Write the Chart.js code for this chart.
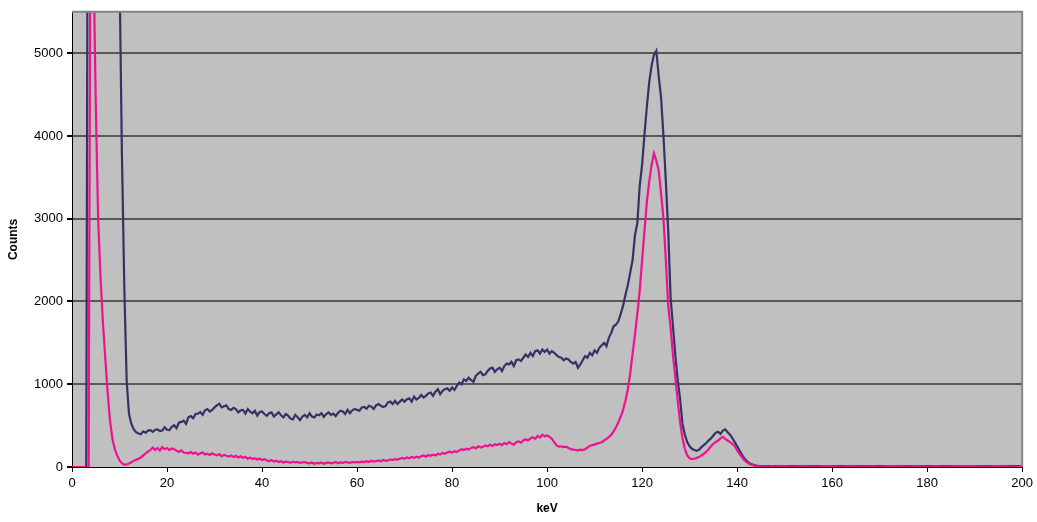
<!DOCTYPE html>
<html>
<head>
<meta charset="utf-8">
<script src="https://cdn.jsdelivr.net/npm/chart.js@4.4.1/dist/chart.umd.min.js"></script>
<style>
html, body { margin: 0; padding: 0; background: #fff; }
</style>
</head>
<body>
<canvas id="spectrum" width="1037" height="522"></canvas>
<script>
// channel energies: 0.5 keV steps up to 150, then 2 keV steps
const keV = [];
for (let i = 0; i <= 300; i++) keV.push(i / 2);
for (let e = 152; e <= 200; e += 2) keV.push(e);

const xTicks = [0, 20, 40, 60, 80, 100, 120, 140, 160, 180, 200];
const yTicks = [0, 1000, 2000, 3000, 4000, 5000];

const navyCounts = [
    0, 0, 0, 0, 0, 0, 0, 12000, 12000, 12000, 12000, 12000, 12000, 12000, 12000, 12000, 12000, 12000, 12000, 12000,
    6000, 3800, 2200, 1050, 640, 520, 455, 420, 405, 395, 430, 415, 440, 445, 425, 450, 455, 435, 440, 480,
    450, 445, 485, 505, 470, 535, 545, 560, 520, 600, 615, 590, 640, 645, 665, 630, 685, 700, 670, 690,
    720, 745, 765, 720, 735, 745, 700, 690, 715, 700, 660, 685, 690, 645, 700, 670, 650, 680, 620, 665,
    670, 640, 620, 650, 660, 610, 635, 660, 625, 600, 640, 620, 585, 575, 630, 600, 565, 610, 630, 600,
    650, 610, 600, 635, 625, 650, 605, 640, 660, 630, 645, 615, 655, 680, 670, 640, 690, 650, 685, 700,
    690, 680, 720, 725, 705, 740, 730, 700, 745, 760, 740, 725, 735, 780, 790, 760, 800, 760, 790, 815,
    790, 820, 830, 790, 850, 815, 835, 870, 840, 860, 890, 900, 860, 910, 940, 880, 920, 940, 950, 920,
    960, 930, 980, 1020, 1000, 1060, 1040, 1080, 1050, 1030, 1100, 1130, 1150, 1110, 1120, 1160, 1190, 1200, 1150, 1180,
    1200, 1160, 1220, 1250, 1240, 1270, 1220, 1290, 1300, 1280, 1320, 1360, 1330, 1380, 1340, 1400, 1410, 1370, 1420, 1390,
    1420, 1370, 1400, 1380, 1350, 1330, 1320, 1290, 1310, 1300, 1270, 1250, 1270, 1200, 1240, 1290, 1340, 1320, 1380, 1350,
    1410, 1380, 1440, 1470, 1500, 1460, 1560, 1620, 1700, 1720, 1760, 1850, 1950, 2080, 2200, 2350, 2500, 2800, 2950, 3400,
    3650, 4020, 4350, 4650, 4850, 4980, 5030, 4720, 4460, 4000, 3450, 2850, 2050, 1700, 1350, 1050, 820, 520, 390, 300,
    250, 220, 205, 195, 210, 240, 265, 290, 320, 345, 380, 415, 425, 400, 440, 455, 420, 390, 350, 300,
    250, 200, 150, 105, 75, 50, 35, 25, 18, 14, 12, 10, 9, 11, 8, 9, 10, 7, 9, 8,
    8,
    10, 8, 12, 9, 7, 11, 8, 10, 9, 12, 8, 7, 10, 9, 11, 8, 10, 7, 9, 8, 11, 9, 8, 10, 9
];

const pinkCounts = [
    0, 0, 0, 0, 0, 0, 0, 0, 9000, 6200, 4400, 3000, 2300, 1750, 1320, 900, 560, 340, 220, 140,
    80, 45, 28, 30, 42, 58, 75, 88, 100, 115, 140, 165, 185, 205, 235, 205, 230, 200, 240, 215,
    230, 205, 225, 215, 195, 185, 200, 175, 170, 165, 180, 160, 175, 150, 165, 175, 150, 160, 145, 165,
    150, 140, 155, 130, 145, 135, 125, 140, 120, 135, 115, 130, 110, 120, 100, 115, 95, 105, 90, 100,
    85, 95, 80, 70, 85, 65, 75, 60, 70, 55, 65, 60, 50, 65, 55, 60, 50, 55, 60, 50,
    45, 55, 40, 50, 45, 55, 40, 50, 55, 45, 50, 60, 45, 55, 50, 60, 55, 50, 60, 55,
    60, 55, 65, 60, 70, 60, 75, 65, 70, 80, 70, 85, 75, 80, 90, 85, 95, 90, 100, 110,
    100, 115, 105, 120, 110, 125, 115, 130, 140, 125, 145, 135, 150, 140, 160, 150, 170, 160, 175, 185,
    175, 190, 180, 200, 215, 205, 220, 210, 230, 240, 225, 250, 235, 245, 260, 250, 270, 255, 275, 265,
    280, 265, 290, 275, 300, 285, 270, 300, 310, 295, 320, 335, 320, 345, 360, 340, 375, 355, 390, 370,
    380, 365, 340, 300, 260, 245, 250, 240, 245, 230, 215, 210, 205, 200, 210, 205, 215, 235, 255, 265,
    270, 285, 290, 300, 320, 340, 360, 390, 430, 480, 540, 610, 690, 800, 940, 1130, 1370, 1600, 1850, 2130,
    2500, 2850, 3200, 3450, 3650, 3790, 3700, 3580, 3300, 3000, 2500, 1950, 1680, 1350, 1080, 800, 540, 350, 220, 140,
    105, 95, 100, 110, 120, 140, 160, 185, 215, 250, 280, 300, 320, 345, 365, 340, 320, 300, 280, 250,
    200, 160, 120, 85, 60, 40, 28, 20, 14, 10, 7, 5, 4, 4, 3, 3, 3, 3, 3, 3,
    3,
    3, 4, 3, 3, 2, 3, 4, 3, 3, 3, 2, 3, 3, 4, 3, 3, 3, 2, 3, 3, 4, 3, 3, 3, 3
];

const toPoints = counts => counts.map((c, i) => ({ x: keV[i], y: c }));

const plotFrame = {
    id: 'plotFrame',
    beforeDraw(chart) {
        const { ctx, chartArea: a } = chart;
        ctx.save();
        ctx.fillStyle = '#c0c0c0';
        ctx.fillRect(a.left, a.top, a.right - a.left, a.bottom - a.top);
        ctx.restore();
    },
    afterDraw(chart) {
        const { ctx, chartArea: a } = chart;
        ctx.save();
        ctx.strokeStyle = '#858585';
        ctx.lineWidth = 2;
        ctx.beginPath();
        ctx.moveTo(a.left, a.top);
        ctx.lineTo(a.right, a.top);
        ctx.lineTo(a.right, a.bottom);
        ctx.stroke();
        ctx.restore();
    }
};

Chart.defaults.font.family = '"Liberation Sans", Arial, sans-serif';
Chart.defaults.color = '#000';

new Chart(document.getElementById('spectrum'), {
    type: 'line',
    data: {
        datasets: [
            {
                label: 'Series 1',
                data: toPoints(navyCounts),
                borderColor: '#333366',
                borderWidth: 2.2,
                pointRadius: 0,
                order: 2
            },
            {
                label: 'Series 2',
                data: toPoints(pinkCounts),
                borderColor: '#ee1190',
                borderWidth: 2.2,
                pointRadius: 0,
                order: 1
            }
        ]
    },
    options: {
        responsive: false,
        animation: false,
        layout: { padding: { top: 10, right: 14, left: 0, bottom: 0 } },
        plugins: { legend: { display: false }, tooltip: { enabled: false } },
        scales: {
            x: {
                type: 'linear',
                min: 0,
                max: 200,
                afterBuildTicks: scale => { scale.ticks = xTicks.map(v => ({ value: v })); },
                afterFit: scale => { scale.height = 55; },
                ticks: { font: { size: 13 }, padding: 4, maxRotation: 0, callback: v => String(v) },
                grid: { drawOnChartArea: false, tickLength: 5, tickColor: '#000' },
                border: { color: '#000', width: 1 },
                title: { display: true, text: 'keV', font: { size: 12, weight: 'bold' }, padding: { top: 0, bottom: 6 } }
            },
            y: {
                min: 0,
                max: 5500,
                afterBuildTicks: scale => { scale.ticks = yTicks.map(v => ({ value: v })); },
                afterFit: scale => { scale.width = 72; },
                ticks: { font: { size: 13 }, padding: 4, callback: v => String(v) },
                grid: {
                    color: ctx => ctx.tick && ctx.tick.value === 0 ? 'rgba(0,0,0,0)' : '#585858',
                    lineWidth: 2,
                    tickLength: 5,
                    tickColor: '#000'
                },
                border: { color: '#000', width: 1 },
                title: { display: true, text: 'Counts', font: { size: 12, weight: 'bold' }, padding: { top: 6, bottom: 0 } }
            }
        }
    },
    plugins: [plotFrame]
});
</script>
</body>
</html>
